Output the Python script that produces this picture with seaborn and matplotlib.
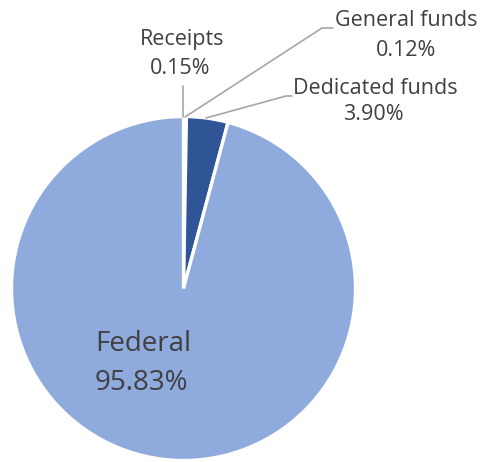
import matplotlib
matplotlib.use("Agg")
import matplotlib.pyplot as plt
import seaborn as sns

categories = ["Receipts", "General funds", "Dedicated funds", "Federal"]
values = [0.15, 0.12, 3.90, 95.83]
pct_labels = ["0.15%", "0.12%", "3.90%", "95.83%"]
colors = ["#A5A5A5", "#4472C4", "#2F5597", "#8FAADC"]

sns.set_theme(style="white")
plt.rcParams["font.family"] = ["Open Sans", "DejaVu Sans"]

W, H = 504, 462
fig = plt.figure(figsize=(W / 100, H / 100), dpi=100)
ax = fig.add_axes([0, 0, 1, 1])

def Y(py):
    return H - py

cx, cy, r = 183.5, 288.5, 172
ax.pie(values, colors=colors, startangle=90, counterclock=False,
       center=(cx, Y(cy)), radius=r,
       wedgeprops=dict(edgecolor="white", linewidth=2.4), frame=True)
ax.set_xlim(0, W)
ax.set_ylim(0, H)
ax.set_aspect("equal")
ax.axis("off")

tc = "#404040"
lc = "#A6A6A6"
fs = 15.5

# Leader lines
ax.plot([183, 183], [Y(117), Y(86)], color=lc, lw=1.2)
ax.plot([185, 322, 333], [Y(117), Y(28), Y(28)], color=lc, lw=1.2)
ax.plot([206, 286, 292], [Y(118), Y(96), Y(96)], color=lc, lw=1.2)

# Labels
ax.text(182, Y(40), categories[0], ha="center", va="center", fontsize=fs, color=tc)
ax.text(180, Y(69), pct_labels[0], ha="center", va="center", fontsize=fs, color=tc)
ax.text(406, Y(21), categories[1], ha="center", va="center", fontsize=fs, color=tc)
ax.text(406, Y(50), pct_labels[1], ha="center", va="center", fontsize=fs, color=tc)
ax.text(375, Y(88), categories[2], ha="center", va="center", fontsize=fs, color=tc)
ax.text(373, Y(115), pct_labels[2], ha="center", va="center", fontsize=fs, color=tc)
ax.text(95, Y(344), categories[3], ha="left", va="center", fontsize=20, color=tc)
ax.text(95, Y(383), pct_labels[3], ha="left", va="center", fontsize=20, color=tc)

fig.savefig("out.png", dpi=100, facecolor="white")
